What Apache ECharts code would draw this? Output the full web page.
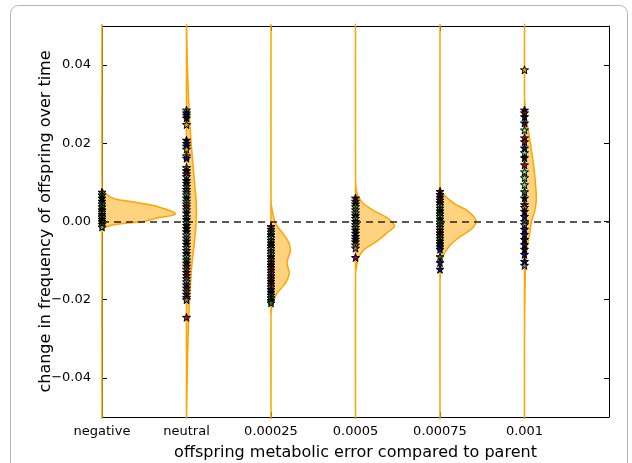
<!DOCTYPE html>
<html>
<head>
<meta charset="utf-8">
<script src="https://cdn.jsdelivr.net/npm/echarts@6/dist/echarts.min.js"></script>
<style>
  html, body { margin: 0; padding: 0; background: #fff; }
  #chart { width: 632px; height: 463px; }
</style>
</head>
<body>
<div id="chart"></div>
<script>
const categories = ['negative', 'neutral', '0.00025', '0.0005', '0.00075', '0.001']

// half-violin outlines: [y, width in category units]
const violinNegative = [[0.05, 0], [0.009, 0], [0.0077, 0.02], [0.0065, 0.08], [0.0056, 0.18], [0.0049, 0.4], [0.0043, 0.57], [0.0036, 0.69], [0.0028, 0.8], [0.002, 0.87], [0.0015, 0.82], [0.001, 0.68], [0.0, 0.49], [-0.0005, 0.25], [-0.001, 0.1], [-0.0018, 0.02], [-0.003, 0], [-0.05, 0]]
const violinNeutral = [[0.05, 0], [0.04, 0.01], [0.03, 0.027], [0.025, 0.04], [0.02, 0.055], [0.015, 0.075], [0.01, 0.095], [0.005, 0.115], [0.0, 0.115], [-0.005, 0.095], [-0.01, 0.068], [-0.015, 0.05], [-0.02, 0.035], [-0.03, 0.018], [-0.04, 0.008], [-0.05, 0]]
const violin00025 = [[0.05, 0], [0.006, 0], [0.004, 0.006], [0.0018, 0.024], [-0.0003, 0.05], [-0.0018, 0.095], [-0.0033, 0.15], [-0.0054, 0.21], [-0.0074, 0.23], [-0.0092, 0.205], [-0.0104, 0.19], [-0.0117, 0.2], [-0.013, 0.215], [-0.0148, 0.195], [-0.0166, 0.14], [-0.0181, 0.08], [-0.0199, 0.035], [-0.0217, 0.012], [-0.024, 0], [-0.05, 0]]
const violin0005 = [[0.05, 0], [0.011, 0], [0.0085, 0.006], [0.0069, 0.024], [0.0048, 0.083], [0.003, 0.2], [0.001, 0.37], [-0.0003, 0.44], [-0.0013, 0.46], [-0.0028, 0.38], [-0.0051, 0.25], [-0.0071, 0.107], [-0.0092, 0.036], [-0.0115, 0.012], [-0.0135, 0], [-0.05, 0]]
const violin00075 = [[0.05, 0], [0.0095, 0], [0.0082, 0.01], [0.0071, 0.035], [0.0056, 0.107], [0.0043, 0.19], [0.003, 0.31], [0.0015, 0.39], [0.0, 0.43], [-0.002, 0.37], [-0.0041, 0.225], [-0.0064, 0.107], [-0.0089, 0.036], [-0.0122, 0.012], [-0.0153, 0], [-0.05, 0]]
const violin0001 = [[0.05, 0], [0.0318, 0], [0.0285, 0.012], [0.026, 0.024], [0.02, 0.07], [0.014, 0.11], [0.0082, 0.135], [0.0056, 0.14], [0.0026, 0.12], [0.0, 0.083], [-0.0033, 0.06], [-0.0066, 0.03], [-0.011, 0.014], [-0.017, 0.006], [-0.03, 0], [-0.05, 0]]
const violins = [violinNegative, violinNeutral, violin00025, violin0005, violin00075, violin0001]

// individual runs: [y, lineage group]
const pointsNegative = [[0.0075, 5], [0.0068, 2], [0.006, 0], [0.0052, 0], [0.0045, 5], [0.0038, 2], [0.003, 0], [0.0024, 3], [0.0018, 0], [0.0012, 5], [0.0006, 0], [0.0, 0], [-0.0007, 2], [-0.0014, 5]]
const pointsNeutral = [[0.0285, 5], [0.0278, 1], [0.0272, 1], [0.0265, 0], [0.0248, 7], [0.0208, 0], [0.02, 1], [0.0193, 1], [0.0185, 7], [0.0168, 7], [0.0162, 1], [0.0138, 5], [0.013, 0], [0.0122, 4], [0.0115, 5], [0.0105, 0], [0.0098, 0], [0.009, 5], [0.0082, 2], [0.0075, 5], [0.0068, 3], [0.006, 0], [0.0052, 3], [0.0045, 5], [0.0038, 4], [0.003, 5], [0.0022, 0], [0.0012, 5], [0.0005, 0], [-0.0003, 3], [-0.001, 0], [-0.0018, 0], [-0.0026, 0], [-0.0034, 3], [-0.0042, 5], [-0.005, 6], [-0.0058, 0], [-0.0066, 3], [-0.0074, 5], [-0.0082, 0], [-0.009, 3], [-0.0098, 2], [-0.0106, 0], [-0.0114, 4], [-0.0122, 5], [-0.013, 4], [-0.0138, 4], [-0.0146, 5], [-0.0154, 3], [-0.0162, 6], [-0.017, 6], [-0.0178, 5], [-0.0186, 4], [-0.0194, 4], [-0.02, 5], [-0.0245, 4]]
const points00025 = [[-0.0013, 6], [-0.002, 6], [-0.0027, 5], [-0.0034, 0], [-0.0041, 3], [-0.0048, 5], [-0.0055, 0], [-0.0062, 0], [-0.0069, 3], [-0.0076, 5], [-0.0083, 3], [-0.009, 0], [-0.0097, 5], [-0.0104, 4], [-0.0111, 0], [-0.0118, 4], [-0.0125, 4], [-0.0132, 5], [-0.0139, 4], [-0.0146, 4], [-0.0153, 0], [-0.016, 4], [-0.0167, 5], [-0.0174, 1], [-0.0181, 0], [-0.0188, 2], [-0.0195, 2], [-0.0202, 0], [-0.0208, 2]]
const points0005 = [[0.006, 1], [0.0052, 4], [0.0045, 0], [0.0038, 3], [0.003, 5], [0.0022, 3], [0.0015, 0], [0.0008, 3], [0.0, 0], [-0.0008, 5], [-0.0015, 3], [-0.0022, 0], [-0.003, 1], [-0.0038, 0], [-0.0045, 1], [-0.0052, 0], [-0.006, 7], [-0.0068, 5], [-0.0092, 6]]
const points00075 = [[0.0077, 6], [0.0069, 6], [0.0062, 0], [0.0055, 4], [0.0048, 0], [0.0041, 3], [0.0034, 5], [0.0027, 0], [0.002, 2], [0.0013, 3], [0.0006, 0], [-0.0001, 3], [-0.0008, 5], [-0.0015, 3], [-0.0022, 4], [-0.0029, 0], [-0.0036, 4], [-0.0043, 5], [-0.005, 0], [-0.0057, 0], [-0.0064, 1], [-0.0071, 1], [-0.009, 2], [-0.0105, 1], [-0.0122, 1]]
const points0001 = [[0.0388, 7], [0.0285, 0], [0.0278, 4], [0.0268, 0], [0.0252, 1], [0.0234, 3], [0.0214, 4], [0.0204, 4], [0.0188, 1], [0.0176, 3], [0.0163, 0], [0.0145, 4], [0.0127, 3], [0.0112, 3], [0.0094, 3], [0.0076, 2], [0.006, 0], [0.0043, 6], [0.0036, 7], [0.0026, 0], [0.0013, 1], [0.0, 3], [-0.0008, 5], [-0.002, 1], [-0.0033, 1], [-0.0046, 0], [-0.0059, 1], [-0.0071, 0], [-0.0084, 1], [-0.0102, 1], [-0.0112, 5]]
const points = [pointsNegative, pointsNeutral, points00025, points0005, points00075, points0001]

const palette = ['#0a0a0a', '#10108a', '#1f7a1f', '#80e080', '#a01818', '#7c7c7c', '#6a107a', '#f0a000']
const star = 'path://M50,0 L61,35 L98,35 L68,57 L79,91 L50,70 L21,91 L32,57 L2,35 L39,35 Z'
const font = 'DejaVu Sans'

const scatterData = []
points.forEach((list, k) => {
  list.forEach(p => {
    scatterData.push({ value: [k, p[0]], itemStyle: { color: palette[p[1]] } })
  })
})

// matplotlib style: unicode minus, edge ticks (±0.05) unlabeled
const yLabel = v => {
  if (Math.abs(Math.abs(v) - 0.05) < 1e-9) return ''
  if (Math.abs(v) < 1e-9) return '0.00'
  return v.toFixed(2).replace('-', '\u2212')
}
const frameLine = { show: true, onZero: false, lineStyle: { color: '#000', width: 1 } }
const frameTick = { show: true, inside: true, length: 5, lineStyle: { color: '#000' } }

const chart = echarts.init(document.getElementById('chart'))
chart.setOption({
  animation: false,
  backgroundColor: '#fff',
  graphic: [{
    type: 'rect',
    shape: { x: 10.5, y: 5.5, width: 617, height: 500, r: 8 },
    style: { fill: 'none', stroke: '#b5b5b5', lineWidth: 1 },
    silent: true
  }],
  grid: { left: 102, right: 23, top: 26, bottom: 46, containLabel: false, outerBoundsMode: 'none' },
  xAxis: [{
    type: 'value',
    min: 0,
    max: 6,
    interval: 1,
    name: 'offspring metabolic error compared to parent',
    nameLocation: 'middle',
    nameGap: 28,
    nameTextStyle: { fontFamily: font, fontSize: 16, color: '#000' },
    axisLine: frameLine,
    axisTick: frameTick,
    axisLabel: { fontFamily: font, fontSize: 13, color: '#000', margin: 8, formatter: v => categories[v] || '' },
    splitLine: { show: false }
  }, {
    type: 'value',
    position: 'top',
    min: 0,
    max: 6,
    interval: 1,
    axisLine: frameLine,
    axisTick: frameTick,
    axisLabel: { show: false },
    splitLine: { show: false }
  }],
  yAxis: [{
    type: 'value',
    min: -0.05,
    max: 0.05,
    splitNumber: 5,
    name: 'change in frequency of offspring over time',
    nameLocation: 'middle',
    nameGap: 48,
    nameMoveOverlap: false,
    nameTextStyle: { fontFamily: font, fontSize: 16, color: '#000' },
    axisLine: frameLine,
    axisTick: frameTick,
    axisLabel: { fontFamily: font, fontSize: 13, color: '#000', margin: 11, formatter: yLabel },
    splitLine: { show: false }
  }, {
    type: 'value',
    position: 'right',
    min: -0.05,
    max: 0.05,
    splitNumber: 5,
    axisLine: frameLine,
    axisTick: frameTick,
    axisLabel: { show: false },
    splitLine: { show: false }
  }],
  series: [
    {
      type: 'custom',
      z: 2,
      data: violins.map((v, k) => [k]),
      renderItem: function (params, api) {
        const k = api.value(0)
        const pts = violins[k].map(p => api.coord([k + p[1], p[0]]))
        return {
          type: 'polygon',
          shape: { points: pts, smooth: 0.25 },
          style: { fill: 'rgba(255,165,0,0.5)', stroke: '#ffa500', lineWidth: 1.5 }
        }
      }
    },
    {
      type: 'line',
      z: 3,
      data: [],
      markLine: {
        silent: true,
        symbol: 'none',
        label: { show: false },
        lineStyle: { color: '#222', width: 1.5, type: [7, 5] },
        data: [{ yAxis: 0 }]
      }
    },
    {
      type: 'scatter',
      z: 4,
      symbol: star,
      symbolSize: 8,
      itemStyle: { borderColor: '#000', borderWidth: 1, opacity: 1 },
      data: scatterData
    }
  ]
})
</script>
</body>
</html>
